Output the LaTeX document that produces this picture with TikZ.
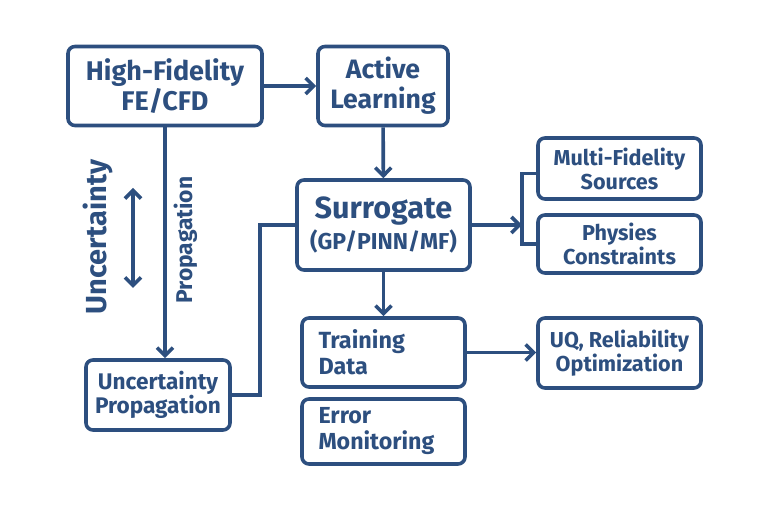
\documentclass[tikz,border=0pt]{standalone}
\usepackage{fontspec}
\setmainfont{Fira Sans}
\usetikzlibrary{arrows.meta, positioning, calc}
\definecolor{navy}{HTML}{2D4F7F}
\tikzset{box/.style={draw=navy, line width=1.8pt, rounded corners=3.5pt, text=navy,
    font=\bfseries, align=center, inner sep=2pt},
    barb/.tip={Straight Barb[length=4pt,width=8pt,line width=1.8pt]},
    link/.style={draw=navy, line width=1.8pt, -barb},
    wire/.style={draw=navy, line width=1.8pt},
    sidetext/.style={text=navy, font=\bfseries, rotate=90}}

\begin{document}
\begin{tikzpicture}[x=0.5pt,y=-0.5pt]
    \useasboundingbox (0,0) rectangle (768,512);
    \node[box, minimum width=97pt, minimum height=39.5pt, font=\bfseries\fontsize{13.5}{15}\selectfont] (hifi) at (165,86) {High-Fidelity\\FE/CFD};
    \node[box, minimum width=65pt, minimum height=39.5pt, font=\bfseries\fontsize{13.3}{15}\selectfont] (active) at (383,86) {Active\\Learning};
    \node[box, minimum width=86.5pt, minimum height=45pt] (surr) at (383.5,225)
        {{\fontsize{15.3}{17}\selectfont Surrogate}\\[1pt]{\fontsize{11.5}{13}\selectfont (GP/PINN/MF)}};
    \node[box, minimum width=81.5pt, minimum height=30.5pt, font=\bfseries\fontsize{10.8}{12}\selectfont] (multi) at (619.5,168.5) {Multi-Fidelity\\Sources};
    \node[box, minimum width=81.5pt, minimum height=29pt, font=\bfseries\fontsize{10.8}{12}\selectfont] (phys) at (619.5,244) {Physies\\Constraints};
    \node[box, minimum width=81.5pt, minimum height=34.5pt, text width=65pt, inner xsep=8.25pt, align=left, font=\bfseries\fontsize{11.7}{13}\selectfont] (train) at (383.5,352.5) {Training\\Data};
    \node[box, minimum width=81.5pt, minimum height=32.5pt, text width=65pt, inner xsep=8.25pt, align=left, font=\bfseries\fontsize{11.6}{13}\selectfont] (error) at (383.5,431.5) {Error\\Monitoring};
    \node[box, minimum width=81.5pt, minimum height=35pt, font=\bfseries\fontsize{10.8}{12.2}\selectfont] (uq) at (619.5,353) {UQ, Reliability\\Optimization};
    \node[box, minimum width=72pt, minimum height=35pt, font=\bfseries\fontsize{11.3}{12.3}\selectfont] (uprop) at (158,395) {Uncertainty\\Propagation};
    % side labels
    \node[sidetext, font=\bfseries\fontsize{14.5}{16}\selectfont] (unclab) at (98,237) {Uncertainty};
    \node[sidetext, font=\bfseries\fontsize{11.4}{13}\selectfont] (proplab) at (186,240) {Propagation};
    \coordinate (dtop) at (133,188);
    \coordinate (dbot) at (133,288);
    \coordinate (fork) at (522,225);
    % connectors
    \draw[link] (hifi) -- (active);
    \draw[link] (active) -- (surr);
    \draw[link] (surr) -- (train);
    \draw[link] (train.east) -- (train.east -| uq.west);
    \draw[link] (hifi.south) -- (hifi.south |- uprop.north);
    \draw[link] (surr.east) -- (fork);
    \draw[wire] ([yshift=-2.5pt]multi.west) -| (fork) |- (phys.west);
    \draw[wire] (uprop.east) -- ++(28,0) |- (surr.west);
    \draw[wire, barb-barb] (dtop) -- (dbot);
\end{tikzpicture}
\end{document}
